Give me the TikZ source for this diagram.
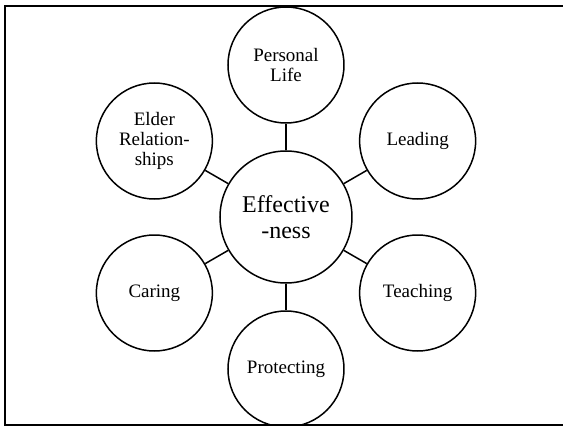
\documentclass[tikz,border=0pt]{standalone}
\usepackage{fontspec}
\setmainfont{Liberation Serif}
\usetikzlibrary{positioning}
\tikzset{hub/.style = {draw, circle, line width = 1.5, inner sep = 0, minimum size = 132,
                       align = center, font = \fontsize{24}{26}\selectfont}}
\tikzset{petal/.style = {draw, circle, line width = 1.5, inner sep = 0, minimum size = 116,
                         align = center, font = \fontsize{19}{20}\selectfont}}
\tikzset{spoke/.style = {line width = 1.5}}

\begin{document}
\begin{tikzpicture}
      \useasboundingbox (-286pt, -209pt) rectangle (277pt, 217pt);
      % frame, open on the right where the page cuts it
      \coordinate (ne) at (285pt, 211pt);
      \coordinate (se) at (285pt, -208pt);
      \draw [line width = 1.5] (ne) -- (-281pt, 211pt) -- (-281pt, -208pt) -- (se);
      \node [hub] (eff) at (0, 0) {Effective\\-ness};
      \node [petal] (life) at (90:152pt) {Personal\\Life};
      \node [petal] (lead) at (30:152pt) {Leading};
      \node [petal] (teach) at (-30:152pt) {Teaching};
      \node [petal] (prot) at (-90:152pt) {Protecting};
      \node [petal] (care) at (210:152pt) {Caring};
      \node [petal] (elder) at (150:152pt) {Elder\\Relation-\\ships};
      \draw [spoke] (eff) -- (life);
      \draw [spoke] (eff) -- (lead);
      \draw [spoke] (eff) -- (teach);
      \draw [spoke] (eff) -- (prot);
      \draw [spoke] (eff) -- (care);
      \draw [spoke] (eff) -- (elder);
    \end{tikzpicture}
\end{document}
